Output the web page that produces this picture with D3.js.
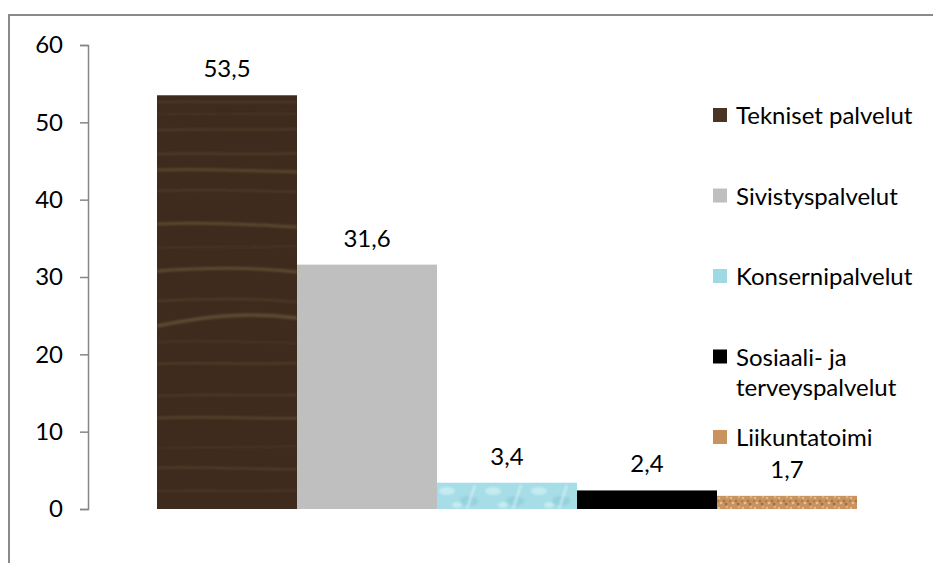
<!DOCTYPE html>
<html>
<head>
<meta charset="utf-8">
<script src="https://cdn.jsdelivr.net/npm/d3@7"></script>
<style>
  html, body { margin: 0; padding: 0; background: #fff; }
  svg { display: block; }
  text { font-family: Lato, "Open Sans", sans-serif; fill: #000; }
</style>
</head>
<body>
<svg id="chart" width="933" height="563"></svg>
<script>
// ---- data ----
const series = ["Tekniset palvelut", "Sivistyspalvelut", "Konsernipalvelut", "Sosiaali- ja terveyspalvelut", "Liikuntatoimi"];
const legendLines = [["Tekniset palvelut"], ["Sivistyspalvelut"], ["Konsernipalvelut"], ["Sosiaali- ja", "terveyspalvelut"], ["Liikuntatoimi"]];
const values = [53.5, 31.6, 3.4, 2.4, 1.7];
const valueLabels = ["53,5", "31,6", "3,4", "2,4", "1,7"];
const yTicks = [0, 10, 20, 30, 40, 50, 60];

// ---- setup ----
const svg = d3.select("#chart");
const fontSize = 24;

// outer frame
svg.append("rect").attr("x", 9).attr("y", 15).attr("width", 1000).attr("height", 1000)
  .attr("fill", "none").attr("stroke", "#8a8a8a").attr("stroke-width", 2);

const y = d3.scaleLinear().domain([0, 60]).range([509, 45]);
const x = d3.scaleBand().domain(series).range([157, 857]).padding(0);

// ---- patterns (decorative textures) ----
const defs = svg.append("defs");
defs.append("filter").attr("id", "soft").append("feGaussianBlur").attr("stdDeviation", 1.2);

// wood
const wood = defs.append("pattern").attr("id", "wood").attr("patternUnits", "userSpaceOnUse")
  .attr("x", 157).attr("y", 96).attr("width", 140).attr("height", 420);
wood.append("rect").attr("width", 140).attr("height", 420).attr("fill", "#3e2b1d");
const woodG = wood.append("g").attr("filter", "url(#soft)");
const woodLines = [
  {d: "M0,6 C50,5 100,7 140,6", w: 2, c: "#54402e", o: 0.7},
  {d: "M0,18 C50,17 100,19 140,18", w: 1.5, c: "#4e3a29", o: 0.8},
  {d: "M0,34 C40,33 100,34 140,33", w: 2, c: "#56422f", o: 0.7},
  {d: "M0,58 C50,56 90,60 140,57", w: 2, c: "#5a4631", o: 0.7},
  {d: "M0,74 C40,72 100,75 140,76", w: 3, c: "#6a5638", o: 0.6},
  {d: "M0,95 C40,93 90,94 140,96", w: 2, c: "#54402d", o: 0.7},
  {d: "M0,128 C40,126 90,128 140,131", w: 3, c: "#725e3e", o: 0.55},
  {d: "M0,152 C40,150 100,152 140,150", w: 1.5, c: "#4e3a29", o: 0.8},
  {d: "M0,175 C40,172 90,170 140,176", w: 3, c: "#735f3e", o: 0.6},
  {d: "M0,205 C40,203 100,202 140,206", w: 2, c: "#5a4631", o: 0.6},
  {d: "M0,230 C30,224 80,214 140,222", w: 3.5, c: "#7a6442", o: 0.55},
  {d: "M0,246 C40,244 100,246 140,247", w: 1.5, c: "#4e3a29", o: 0.8},
  {d: "M0,268 C40,266 100,269 140,267", w: 2, c: "#5e4a33", o: 0.6},
  {d: "M0,300 C40,298 100,300 140,299", w: 2, c: "#54402d", o: 0.7},
  {d: "M0,322 C50,320 100,323 140,322", w: 2.5, c: "#6a5638", o: 0.55},
  {d: "M0,352 C40,351 100,352 140,350", w: 1.5, c: "#4e3a29", o: 0.8},
  {d: "M0,372 C40,370 100,374 140,373", w: 2, c: "#5e4a33", o: 0.6},
  {d: "M0,395 C40,394 100,396 140,394", w: 1.5, c: "#54402d", o: 0.7}
];
woodLines.forEach(l => woodG.append("path").attr("d", l.d).attr("fill", "none")
  .attr("stroke", l.c).attr("stroke-width", l.w).attr("opacity", l.o));

// water / cyan
const water = defs.append("pattern").attr("id", "water").attr("patternUnits", "userSpaceOnUse")
  .attr("x", 437).attr("y", 483).attr("width", 46).attr("height", 28);
water.append("rect").attr("width", 46).attr("height", 28).attr("fill", "#a6dde6");
const wg = water.append("g").attr("filter", "url(#soft)");
wg.append("ellipse").attr("cx", 10).attr("cy", 8).attr("rx", 8).attr("ry", 4).attr("fill", "#cdeff3").attr("opacity", 0.8);
wg.append("ellipse").attr("cx", 32).attr("cy", 18).attr("rx", 9).attr("ry", 5).attr("fill", "#8fcdd8").attr("opacity", 0.7);
wg.append("path").attr("d", "M38,2 L30,26").attr("stroke", "#d8f4f7").attr("stroke-width", 2).attr("opacity", 0.8);
wg.append("ellipse").attr("cx", 20).attr("cy", 22).attr("rx", 5).attr("ry", 3).attr("fill", "#d5f2f5").attr("opacity", 0.7);

// sand
const sand = defs.append("pattern").attr("id", "sand").attr("patternUnits", "userSpaceOnUse")
  .attr("x", 717).attr("y", 496).attr("width", 12).attr("height", 10);
sand.append("rect").attr("width", 12).attr("height", 10).attr("fill", "#c8935e");
[[2,2,"#e1ba8c"],[7,5,"#a87446"],[10,1,"#dcb080"],[4,7,"#e6c296"],[9,8,"#9e6c40"],[1,5,"#b07c4e"]]
  .forEach(p => sand.append("circle").attr("cx", p[0]).attr("cy", p[1]).attr("r", 1.3).attr("fill", p[2]));

const fills = ["url(#wood)", "#bfbfbf", "url(#water)", "#000000", "url(#sand)"];
const swatchFills = ["#4a3424", "#bfbfbf", "#9fd9e3", "#000000", "#c8935e"];

// ---- bars ----
svg.append("g").selectAll("rect").data(values).join("rect")
  .attr("x", (d, i) => x(series[i]))
  .attr("y", d => y(d))
  .attr("width", x.bandwidth())
  .attr("height", d => y(0) - y(d))
  .attr("fill", (d, i) => fills[i]);

// value labels
svg.append("g").selectAll("text").data(values).join("text")
  .attr("x", (d, i) => x(series[i]) + x.bandwidth() / 2)
  .attr("y", d => y(d) - 18)
  .attr("text-anchor", "middle")
  .attr("font-size", fontSize)
  .text((d, i) => valueLabels[i]);

// ---- axis ----
const axis = d3.axisLeft(y).tickValues(yTicks).tickSize(8).tickSizeOuter(8).tickPadding(17)
  .tickFormat(d3.format("d"));
const gA = svg.append("g").attr("transform", "translate(88,0)").call(axis);
gA.select(".domain").attr("stroke", "#868686").attr("stroke-width", 1.5);
gA.selectAll(".tick line").attr("stroke", "#868686").attr("stroke-width", 1.5);
gA.selectAll(".tick text").attr("font-size", fontSize).attr("font-family", "Lato, 'Open Sans', sans-serif").attr("fill", "#000");

// ---- legend ----
const lg = svg.append("g");
const legendX = 713, textX = 736, baseY = 124, step = 80.5, lineH = 30;
legendLines.forEach((lines, i) => {
  const by = baseY + i * step;
  lg.append("rect").attr("x", legendX).attr("y", by - 16).attr("width", 14).attr("height", 14)
    .attr("fill", swatchFills[i]);
  const t = lg.append("text").attr("x", textX).attr("y", by).attr("font-size", fontSize);
  lines.forEach((ln, j) => t.append("tspan").attr("x", textX).attr("y", by + j * lineH).text(ln));
});
</script>
</body>
</html>
